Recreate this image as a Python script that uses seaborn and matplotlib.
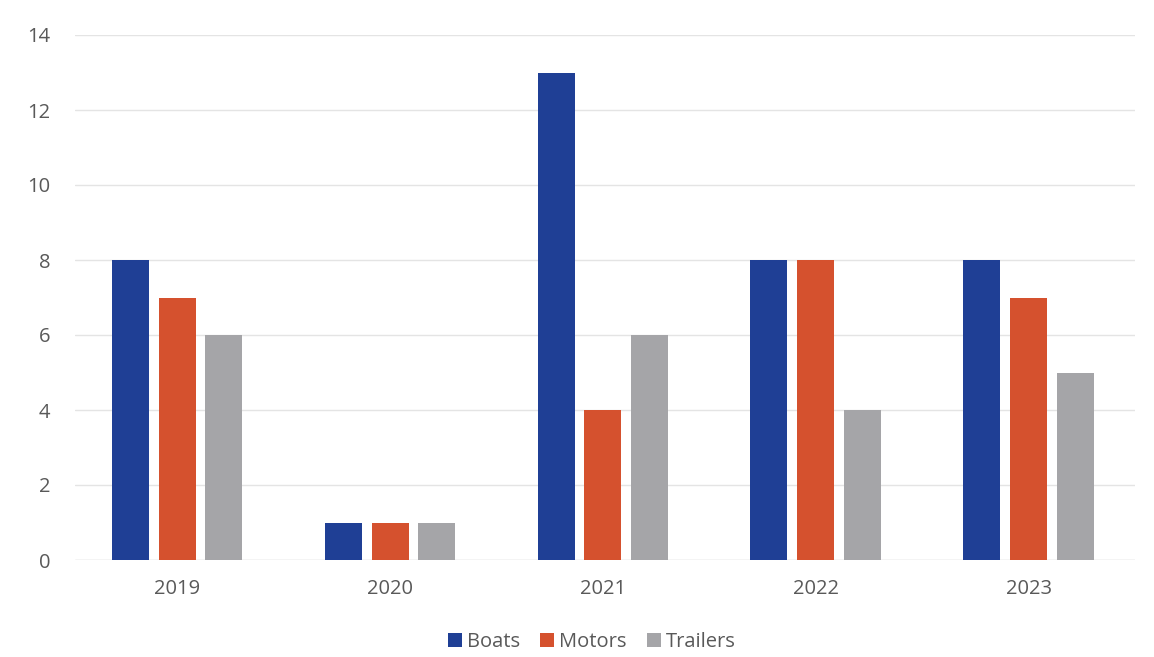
import matplotlib
matplotlib.use("Agg")
import matplotlib.pyplot as plt
import seaborn as sns
import pandas as pd

years = ["2019", "2020", "2021", "2022", "2023"]
boats = [8, 1, 13, 8, 8]
motors = [7, 1, 4, 8, 7]
trailers = [6, 1, 6, 4, 5]
series_names = ["Boats", "Motors", "Trailers"]
colors = ["#1f3f95", "#d5512e", "#a5a5a8"]

df = pd.DataFrame({
    "Year": years * 3,
    "Value": boats + motors + trailers,
    "Series": [s for s in series_names for _ in years],
})

sns.set_theme(style="white")
plt.rcParams["font.family"] = ["Open Sans", "DejaVu Sans"]
text_color = "#595959"

fig = plt.figure(figsize=(11.54, 6.57), dpi=100)
ax = fig.add_axes([75 / 1154, 97 / 657, 1060 / 1154, 525 / 657])

sns.barplot(data=df, x="Year", y="Value", hue="Series", palette=colors,
            width=0.66, gap=0.21, ax=ax, saturation=1, legend=True,
            linewidth=0)

ax.set_ylim(0, 14)
ax.set_xlim(-0.48, 4.5)
ax.set_yticks(range(0, 15, 2))
ax.yaxis.grid(True, color="#e4e4e4", linewidth=1)
ax.set_axisbelow(True)
for s in ax.spines.values():
    s.set_visible(False)
ax.axhline(0, color="#e0e0e0", linewidth=1, zorder=0)
ax.set_xlabel("")
ax.set_ylabel("")
ax.tick_params(axis="both", length=0, labelsize=14.5, colors=text_color)
ax.tick_params(axis="y", pad=18)
ax.tick_params(axis="x", pad=14)

handles, labels = ax.get_legend_handles_labels()
ax.legend_.remove()
fig.legend(handles, labels, loc="center", bbox_to_anchor=(592 / 1154, 1 - 642 / 657),
           ncol=3, frameon=False, fontsize=14.5, handlelength=0.7, handleheight=0.7,
           handletextpad=0.25, columnspacing=1.0, labelcolor=text_color)

fig.savefig("out.png", dpi=100)
